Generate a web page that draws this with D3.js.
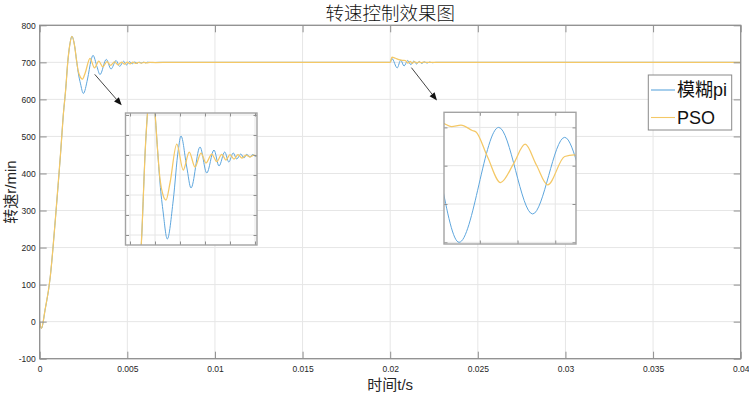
<!DOCTYPE html>
<html><head><meta charset="utf-8">
<script src="https://cdn.jsdelivr.net/npm/d3@7"></script>
<style>body{margin:0;background:#fff}svg{display:block}</style>
</head><body>
<svg id="c" width="749" height="395"></svg>
<script>
// ---------- data ----------
const titleText = "转速控制效果图";
const xLabel = "时间t/s";
const yLabel = "转速r/min";
const seriesNames = ["模糊pi", "PSO"];
const xTicks = [0, 0.005, 0.01, 0.015, 0.02, 0.025, 0.03, 0.035, 0.04];
const xTickLabels = ["0", "0.005", "0.01", "0.015", "0.02", "0.025", "0.03", "0.035", "0.04"];
const yTicks = [-100, 0, 100, 200, 300, 400, 500, 600, 700, 800];
const yTickLabels = ["-100", "0", "100", "200", "300", "400", "500", "600", "700", "800"];

const tBlue = [0, 0.0001, 0.0003, 0.0006, 0.0009, 0.0012, 0.00135, 0.00148, 0.0016, 0.00171, 0.00184, 0.002, 0.0021, 0.0022, 0.00233, 0.00249, 0.00273, 0.00293, 0.00304, 0.00327, 0.00344, 0.0038, 0.00407, 0.00436, 0.00456, 0.00479, 0.00495, 0.00513, 0.00527, 0.00543, 0.00556, 0.00567, 0.0058, 0.00591, 0.00603, 0.00615, 0.0064, 0.0068, 0.0199, 0.02, 0.0201, 0.0204, 0.0206, 0.02079, 0.021, 0.02118, 0.02135, 0.0215, 0.02166, 0.0218, 0.02195, 0.0221, 0.02225, 0.0224, 0.0226, 0.04];
const vBlue = [0, -18, 30, 120, 280, 460, 560, 625, 700, 745, 770, 742, 706, 672, 642, 616, 655, 705, 719, 688, 667, 708, 682, 705, 689, 703, 693, 702, 696, 701, 697, 700.7, 698, 700.5, 698.5, 700.3, 699.3, 700, 700, 700, 710, 685, 706, 690, 705, 693.7, 703.7, 695.5, 702.5, 697, 701.5, 698, 700.8, 699, 700, 700];

const tPso = [0, 0.0001, 0.0003, 0.0006, 0.0009, 0.0012, 0.00135, 0.00148, 0.0016, 0.00171, 0.00184, 0.002, 0.0021, 0.0022, 0.00232, 0.00244, 0.0026, 0.00287, 0.00313, 0.00337, 0.0036, 0.00384, 0.00404, 0.00427, 0.00447, 0.00467, 0.00484, 0.005, 0.00516, 0.00532, 0.00548, 0.00564, 0.0058, 0.00596, 0.0061, 0.0063, 0.0066, 0.0075, 0.0199, 0.02, 0.0201, 0.0203, 0.0205, 0.02071, 0.02075, 0.0208, 0.02086, 0.02088, 0.02094, 0.02101, 0.02108, 0.02114, 0.0212, 0.02126, 0.02135, 0.0214, 0.02152, 0.02165, 0.02178, 0.0219, 0.0221, 0.0225, 0.04];
const vPso = [0, -18, 30, 120, 280, 460, 560, 625, 700, 745, 770, 742, 706, 676, 660, 655, 672, 711, 685, 703, 688, 702, 692, 701, 693.3, 700.7, 695, 700.5, 696, 700.3, 697, 700, 698, 700, 698.5, 700, 699.3, 700, 700, 700, 714, 711, 707.5, 705.5, 705.1, 705.3, 704.6, 704.4, 701.2, 697.8, 700.3, 702.8, 700.1, 697.5, 701.2, 701.4, 698.5, 701, 699, 700.5, 700, 700, 700];

// zoom windows (data ranges)
const inset1X = [0.00082, 0.00608];
const inset1Y = [610, 742];
const inset1XTicks = [0.001, 0.002, 0.003, 0.004, 0.005, 0.006];
const inset1YTicks = [620, 640, 660, 680, 700, 720, 740];
const inset2X = [0.02071, 0.02141];
const inset2Y = [689.78, 706.97];
const inset2XTicks = [0.0209, 0.0211, 0.0213];
const inset2YTicks = [690, 695, 700, 705];
// arrows (data coords, start -> tip)
const arrow1 = [[0.00314, 667.6], [0.00468, 583.9]];
const arrow2 = [[0.02121, 685.7], [0.02267, 597]];

// ---------- styles ----------
const blue = "#5ea6dd", yellow = "#f4c866";
const axisCol = "#8f8f8f", gridCol = "#e6e6e6", txtCol = "#262626";
const latin = "'Liberation Sans', Arial, 'Noto Sans CJK SC', sans-serif";

const svg = d3.select("#c");
svg.append("rect").attr("width", 749).attr("height", 395).attr("fill", "#fff");

const P = {l: 39.7, r: 740.7, t: 25.3, b: 358.7};
const x = d3.scaleLinear().domain([0, 0.04]).range([P.l, P.r]);
const y = d3.scaleLinear().domain([-100, 800]).range([P.b, P.t]);

const blueData = tBlue.map((t, i) => [t, vBlue[i]]);
const psoData = tPso.map((t, i) => [t, vPso[i]]);

function drawPanel(g, xs, ys, xt, yt, tick, id, opts) {
  const [x0, x1] = xs.range(), [y0, y1] = ys.range(); // y0 bottom
  g.append("rect").attr("x", x0).attr("y", y1).attr("width", x1 - x0).attr("height", y0 - y1).attr("fill", "#fff");
  g.append("g").selectAll("line").data(xt).join("line")
    .attr("x1", d => xs(d)).attr("x2", d => xs(d)).attr("y1", y1).attr("y2", y0)
    .attr("stroke", gridCol).attr("stroke-width", 1);
  g.append("g").selectAll("line").data(yt).join("line")
    .attr("y1", d => ys(d)).attr("y2", d => ys(d)).attr("x1", x0).attr("x2", x1)
    .attr("stroke", gridCol).attr("stroke-width", 1);
  svg.append("defs").append("clipPath").attr("id", id)
    .append("rect").attr("x", x0).attr("y", y1).attr("width", x1 - x0).attr("height", y0 - y1);
  const line = d3.line().x(d => xs(d[0])).y(d => ys(d[1])).curve(d3.curveMonotoneX);
  const cg = g.append("g").attr("clip-path", `url(#${id})`);
  cg.append("path").datum(blueData).attr("d", line).attr("fill", "none").attr("stroke", blue).attr("stroke-width", opts.lw);
  cg.append("path").datum(psoData).attr("d", line).attr("fill", "none").attr("stroke", yellow).attr("stroke-width", opts.lw + 0.25);
  const mk = (axis, tr) => {
    const a = g.append("g").attr("transform", tr).call(axis);
    a.select(".domain").remove();
    a.selectAll(".tick line").attr("stroke", axisCol).attr("stroke-width", 1);
    a.selectAll("text").attr("fill", txtCol).style("font-family", latin).style("font-size", "8.5px");
    return a;
  };
  mk(d3.axisBottom(xs).tickValues(xt).tickSizeInner(-tick).tickSizeOuter(0).tickPadding(7)
      .tickFormat(opts.xLab ? (d, i) => opts.xLab[i] : ""), `translate(0,${y0})`);
  mk(d3.axisTop(xs).tickValues(xt).tickSizeInner(-tick).tickSizeOuter(0).tickFormat(""), `translate(0,${y1})`);
  mk(d3.axisLeft(ys).tickValues(yt).tickSizeInner(-tick).tickSizeOuter(0).tickPadding(4)
      .tickFormat(opts.yLab ? (d, i) => opts.yLab[i] : ""), `translate(${x0},0)`);
  mk(d3.axisRight(ys).tickValues(yt).tickSizeInner(-tick).tickSizeOuter(0).tickFormat(""), `translate(${x1},0)`);
  g.append("rect").attr("x", x0).attr("y", y1).attr("width", x1 - x0).attr("height", y0 - y1)
    .attr("fill", "none").attr("stroke", opts.bc).attr("stroke-width", opts.bw);
}

// main panel
drawPanel(svg.append("g"), x, y, xTicks, yTicks, 7, "clipMain", {lw: 1.0, bw: 1.3, bc: axisCol, xLab: xTickLabels, yLab: yTickLabels});

// arrows
function arrow(a) {
  const p0 = [x(a[0][0]), y(a[0][1])], p1 = [x(a[1][0]), y(a[1][1])];
  const ang = Math.atan2(p1[1] - p0[1], p1[0] - p0[0]);
  const L = 8, Wd = 3.2;
  const base = [p1[0] - L * Math.cos(ang), p1[1] - L * Math.sin(ang)];
  svg.append("line").attr("x1", p0[0]).attr("y1", p0[1]).attr("x2", base[0]).attr("y2", base[1])
    .attr("stroke", "#444").attr("stroke-width", 1);
  const pts = [p1,
    [base[0] + Wd * Math.sin(ang), base[1] - Wd * Math.cos(ang)],
    [base[0] - Wd * Math.sin(ang), base[1] + Wd * Math.cos(ang)]];
  svg.append("path").attr("d", "M" + pts.map(p => p.join(",")).join("L") + "Z").attr("fill", "#111");
}
arrow(arrow1);
arrow(arrow2);

// insets
const xi1 = d3.scaleLinear().domain(inset1X).range([125.5, 257]);
const yi1 = d3.scaleLinear().domain(inset1Y).range([245, 113]);
drawPanel(svg.append("g"), xi1, yi1, inset1XTicks, inset1YTicks, 3.5, "clipI1", {lw: 1.0, bw: 1.4, bc: "#a3a3a3"});
const xi2 = d3.scaleLinear().domain(inset2X).range([444, 576]);
const yi2 = d3.scaleLinear().domain(inset2Y).range([244, 112.3]);
drawPanel(svg.append("g"), xi2, yi2, inset2XTicks, inset2YTicks, 3.5, "clipI2", {lw: 1.0, bw: 1.4, bc: "#a3a3a3"});

// title & labels
svg.append("text").attr("x", (P.l + P.r) / 2).attr("y", 11.5).attr("text-anchor", "middle")
  .attr("dominant-baseline", "central").attr("fill", "#111")
  .style("font-family", "'Noto Sans CJK SC', sans-serif").style("font-size", "18.5px").style("font-weight", "300")
  .text(titleText);
svg.append("text").attr("x", (P.l + P.r) / 2).attr("y", 384.7).attr("text-anchor", "middle")
  .attr("dominant-baseline", "central").attr("fill", txtCol)
  .style("font-family", latin).style("font-size", "15px").text(xLabel);
svg.append("text").attr("transform", `translate(10,${(P.t + P.b) / 2}) rotate(-90)`).attr("text-anchor", "middle")
  .attr("dominant-baseline", "central").attr("fill", txtCol)
  .style("font-family", latin).style("font-size", "15px").text(yLabel);

// legend
const lg = svg.append("g");
lg.append("rect").attr("x", 648.3).attr("y", 75).attr("width", 83.4).attr("height", 55)
  .attr("fill", "#fff").attr("stroke", "#8a8a8a").attr("stroke-width", 1);
const cols = [blue, yellow];
seriesNames.forEach((n, i) => {
  const cy = 90 + i * 27.5;
  lg.append("line").attr("x1", 651).attr("x2", 675).attr("y1", cy).attr("y2", cy)
    .attr("stroke", cols[i]).attr("stroke-width", 1.1);
  lg.append("text").attr("x", 677).attr("y", cy).attr("dominant-baseline", "central")
    .attr("fill", "#111").style("font-family", latin).style("font-size", "18px").text(n);
});
</script>
</body></html>
